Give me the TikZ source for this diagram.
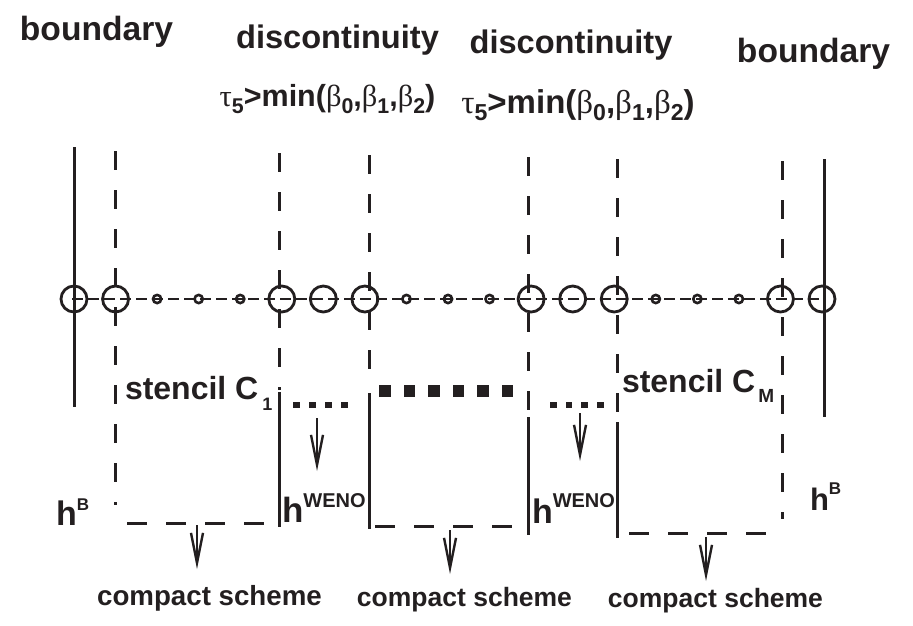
\documentclass[tikz,border=0pt]{standalone}
\usepackage{fontspec}
\setmainfont{Liberation Sans}
\newfontfamily\grk{Liberation Serif}
\usetikzlibrary{arrows.meta}
\definecolor{ink}{RGB}{35,31,32}
\newcommand\fs[1]{\fontsize{#1}{#1}\selectfont}
\newcommand\sbs[1]{\raisebox{-0.24em}{\scalebox{0.7}{#1}}}
\newcommand\tauline[1]{\fs{#1}{\grk\mdseries τ}\sbs{5}>min({\grk\mdseries β}\sbs{0},{\grk\mdseries β}\sbs{1},{\grk\mdseries β}\sbs{2})}
\begin{document}
\begin{tikzpicture}[x=1pt,y=-1pt,line width=3pt,color=ink,
  txt/.style={inner sep=0pt,font=\bfseries,text=ink},
  big/.style={circle,draw,minimum size=26pt,inner sep=0pt,line width=2.8pt},
  small/.style={circle,draw,minimum size=8.2pt,inner sep=0pt,line width=2.6pt},
  vdash/.style={dash pattern=on 19pt off 20pt},
  hdash/.style={dash pattern=on 20pt off 19pt},
  axis/.style={line width=2.8pt,dash pattern=on 11pt off 5pt},
  arr/.style={line width=2.4pt,-{Straight Barb[length=30pt,width=12pt]}}]
\useasboundingbox (0,0) rectangle (913,625);
% axis and grid points
\draw[axis] (72,299) -- (826,299);
\foreach \i in {0,1,5,6,7,11,12,13,17,18} \node[big] (c\i) at ({74+41.556*\i},299) {};
\foreach \i in {2,3,4,8,9,10,14,15,16} \node[small] (c\i) at ({74+41.556*\i},299) {};
% boundaries
\draw (74,147) -- (74,407);
\draw (824,159) -- (824,417);
% left stencil box
\draw[vdash] (115,151) -- (115,505);
\draw[hdash] (127,523) -- (278,523);
\draw[vdash] (279,153) -- (279,390);
\draw (279,392) -- (279,527);
% middle box
\draw[vdash] (369,155) -- (369,385);
\draw (369,393) -- (369,529);
\draw[hdash] (375,526) -- (515,526);
% right discontinuity
\draw[vdash] (528,157) -- (528,412);
\draw (528,417) -- (528,535);
\draw[vdash] (617,159) -- (617,413);
\draw (617,422) -- (617,538);
% right stencil box
\draw[hdash] (629,533) -- (770,533);
\draw[vdash] (782,161) -- (782,519);
% square dots
\foreach \k in {0,...,3} \fill ({293+16*\k},401.5) rectangle +(6.5,6.5);
\foreach \k in {0,...,5} \fill ({379+24.5*\k},385) rectangle +(11.5,12);
\foreach \k in {0,...,3} \fill ({550+15.7*\k},401.5) rectangle +(6.5,6.5);
% arrows
\coordinate (a1s) at (197,525); \coordinate (a1e) at (197,569);
\coordinate (a2s) at (450,530); \coordinate (a2e) at (450,574);
\coordinate (a3s) at (706,537); \coordinate (a3e) at (706,581);
\coordinate (w1s) at (317,418); \coordinate (w1e) at (317,471);
\coordinate (w2s) at (580,413); \coordinate (w2e) at (580,461);
\draw[arr] (a1s) -- (a1e);
\draw[arr] (a2s) -- (a2e);
\draw[arr] (a3s) -- (a3e);
\draw[arr] (w1s) -- (w1e);
\draw[arr] (w2s) -- (w2e);
% texts
\node[txt,anchor=base] (bl) at (96.5,40) {\fs{33.6}boundary};
\node[txt,anchor=base] (br) at (813.5,62) {\fs{33.6}boundary};
\node[txt,anchor=base] (dl) at (337.5,48) {\fs{32.6}discontinuity};
\node[txt,anchor=base] (dr) at (571,53) {\fs{32.6}discontinuity};
\node[txt,anchor=base] (tl) at (327.5,106) {\tauline{30.5}};
\node[txt,anchor=base] (tr) at (578,113) {\tauline{33}};
\node[txt,anchor=base west] (s1) at (123.5,399) {\fs{32}stencil C\hspace{4pt}\raisebox{-11pt}{\fs{18}1}};
\node[txt,anchor=base west] (sm) at (620.5,392) {\fs{32}stencil C\hspace{3pt}\raisebox{-10pt}{\fs{19}M}};
\node[txt,anchor=base west] (hbl) at (54.5,525) {\fs{34}h\raisebox{15pt}{\fs{17}B}};
\node[txt,anchor=base west] (hbr) at (808.5,510) {\fs{31}h\raisebox{16pt}{\fs{17}B}};
\node[txt,anchor=base west] (hwl) at (280.5,522) {\fs{35}h\raisebox{15pt}{\fs{20}WENO}};
\node[txt,anchor=base west] (hwr) at (530.5,523) {\fs{34}h\raisebox{16pt}{\fs{20}WENO}};
\node[txt,anchor=base] (cs1) at (209.5,605) {\fs{27.7}compact scheme};
\node[txt,anchor=base] (cs2) at (464.5,606) {\fs{26.5}compact scheme};
\node[txt,anchor=base] (cs3) at (715.5,607) {\fs{26.5}compact scheme};
\end{tikzpicture}
\end{document}
